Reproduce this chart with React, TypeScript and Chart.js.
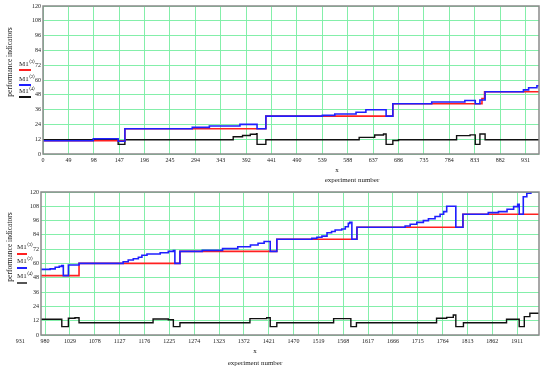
import React, { useEffect, useRef } from 'react';
import { Chart, registerables } from 'chart.js';
Chart.register(...registerables);

// ---------- tick labels ----------
const yTicks = [0, 12, 24, 36, 48, 60, 72, 84, 96, 108, 120];
const topXTicks = [0, 49, 98, 147, 196, 245, 294, 343, 392, 441, 490, 539, 588, 637, 686, 735, 784, 833, 882, 931];
const bottomXTicks = [931, 980, 1029, 1078, 1127, 1176, 1225, 1274, 1323, 1372, 1421, 1470, 1519, 1568, 1617, 1666, 1715, 1764, 1813, 1862, 1911];

// ---------- top chart (experiments 0 .. 957) ----------
const topBlueX = [0, 97, 145, 158, 288, 321, 380, 413, 430, 539, 563, 604, 623, 662, 675, 750, 814, 834, 843, 853, 927, 937, 953, 957];
const topBlueY = [10.8, 12.4, 10.3, 20.5, 21.6, 22.7, 24, 20.5, 30.7, 31.3, 32.4, 33.8, 35.9, 30.7, 40.8, 42.2, 43.4, 40.8, 43.8, 50.5, 52, 53.7, 55.3, 55.3];
const topRedX = [0, 158, 430, 675, 847, 852, 957];
const topRedY = [10.8, 20.5, 30.7, 40.8, 45, 50.5, 50.5];
const topBlackX = [0, 145, 158, 367, 385, 400, 412, 413, 430, 610, 640, 657, 662, 675, 686, 798, 824, 834, 843, 853, 957];
const topBlackY = [11.5, 7.8, 11.5, 14, 15, 16, 16.5, 7.8, 11.5, 13.5, 15.4, 16.2, 7.8, 11, 11.5, 14.9, 15.5, 7.8, 16.2, 11.5, 11.5];

// ---------- bottom chart (experiments 972 .. 1954) ----------
const botBlueX = [972, 990, 1000, 1008, 1013, 1016, 1026, 1047, 1134, 1144, 1154, 1164, 1171, 1181, 1207, 1223, 1233, 1236, 1246, 1290, 1330, 1360, 1385, 1400, 1412, 1424, 1437, 1506, 1516, 1526, 1536, 1545, 1552, 1565, 1572, 1578, 1581, 1585, 1595, 1690, 1700, 1713, 1726, 1736, 1749, 1759, 1766, 1772, 1790, 1804, 1854, 1874, 1891, 1904, 1912, 1915, 1923, 1930, 1938, 1954];
const botBlueY = [55.1, 55.5, 56.8, 57.6, 58.2, 49.8, 58.7, 60.1, 61.5, 62.9, 64, 65.2, 66.9, 68, 69, 70.2, 70.8, 60.1, 70.2, 71, 72.5, 74, 75.5, 77, 78.5, 70.2, 80.3, 81.1, 82, 83, 85.8, 86.9, 88.1, 89, 90.9, 93.7, 94.5, 80.3, 90.4, 91.5, 93, 94.5, 96, 97.6, 99.5, 101.3, 103.5, 108, 90.4, 101.3, 102.7, 103.5, 105.5, 107.7, 109.7, 101.3, 116, 118.9, 120.5, 120.5];
const botRedX = [972, 1047, 1246, 1437, 1595, 1804, 1954];
const botRedY = [49.8, 60.1, 70.2, 80.3, 90.4, 101.3, 101.3];
const botBlackX = [972, 1013, 1026, 1039, 1047, 1193, 1223, 1233, 1246, 1384, 1417, 1424, 1437, 1549, 1583, 1594, 1752, 1772, 1785, 1790, 1805, 1890, 1915, 1925, 1936, 1954];
const botBlackY = [13.2, 7, 14, 14.5, 10.3, 13.4, 12.8, 7, 10.3, 13.7, 14.5, 7, 10.3, 13.7, 7, 10.3, 14, 14.8, 16.8, 7, 10.3, 13.2, 7, 15.4, 18.2, 18.2];

const BLUE = '#1f1fff';
const RED = '#ff2020';
const BLACK = '#111111';
const GRID = 'rgba(125, 238, 165, 0.95)';
const FONT = '"Liberation Serif", "Times New Roman", serif';

type Series = { x: number[]; y: number[]; color: string; width: number };

const framePlugin = {
  id: 'frame',
  afterDatasetsDraw(chart: any) {
    const { ctx, chartArea } = chart;
    ctx.save();
    ctx.strokeStyle = '#8a8a8a';
    ctx.lineWidth = 1.5;
    ctx.strokeRect(chartArea.left, chartArea.top, chartArea.right - chartArea.left, chartArea.bottom - chartArea.top);
    ctx.restore();
  },
};

function StepChart(props: {
  top: number; height: number; areaLeft: number; areaRight: number; areaTop: number; areaBottom: number;
  xMin: number; xMax: number; xTicks: number[]; series: Series[];
}) {
  const ref = useRef<HTMLCanvasElement | null>(null);
  useEffect(() => {
    const { height, areaLeft, areaRight, areaTop, areaBottom, xMin, xMax, xTicks, series } = props;
    const chart = new Chart(ref.current as HTMLCanvasElement, {
      type: 'line',
      data: {
        datasets: series.map((s) => ({
          data: s.x.map((x, i) => ({ x, y: s.y[i] })),
          borderColor: s.color,
          borderWidth: s.width,
          pointRadius: 0,
          stepped: true,
          fill: false,
        })),
      },
      options: {
        animation: false,
        responsive: false,
        events: [],
        layout: { padding: { left: 0, right: 550 - areaRight, top: areaTop, bottom: 0 } },
        plugins: { legend: { display: false }, tooltip: { enabled: false } },
        scales: {
          x: {
            type: 'linear',
            min: xMin,
            max: xMax,
            afterBuildTicks: (ax: any) => { ax.ticks = xTicks.map((v) => ({ value: v })); },
            afterFit: (ax: any) => { ax.height = height - areaBottom; },
            ticks: {
              autoSkip: false, maxRotation: 0, minRotation: 0, padding: 3, color: '#222',
              font: { family: FONT, size: 6 },
              callback: (v: any) => String(v),
            },
            grid: {
              color: (c: any) => (c.tick && c.tick.value < xMin ? 'rgba(0,0,0,0)' : GRID),
              lineWidth: 1,
              drawTicks: false,
            },
            border: { display: false },
          },
          y: {
            type: 'linear',
            min: 0,
            max: 120,
            afterBuildTicks: (ax: any) => { ax.ticks = yTicks.map((v) => ({ value: v })); },
            afterFit: (ax: any) => { ax.width = areaLeft; },
            ticks: { padding: 2, color: '#222', font: { family: FONT, size: 6 }, callback: (v: any) => String(v) },
            grid: { color: GRID, lineWidth: 1, drawTicks: false },
            border: { display: false },
          },
        },
      } as any,
      plugins: [framePlugin],
    });
    return () => chart.destroy();
  }, []);
  return (
    <canvas ref={ref} width={550} height={props.height}
      style={{ position: 'absolute', left: 0, top: props.top, width: 550, height: props.height }} />
  );
}

function Text(p: { x: number; y: number; size: number; children: any; rotate?: boolean }) {
  return (
    <div style={{
      position: 'absolute', left: p.x, top: p.y, whiteSpace: 'nowrap', fontFamily: FONT, fontSize: p.size,
      color: '#222', lineHeight: 1,
      transform: p.rotate ? 'translate(-50%, -50%) rotate(-90deg)' : 'translate(-50%, -50%)',
    }}>{p.children}</div>
  );
}

function LegendItem(p: { x: number; textY: number; lineY: number; sup: string; color: string; w: number }) {
  return (
    <>
      <div style={{ position: 'absolute', left: p.x, top: p.textY - 4, fontFamily: FONT, fontSize: 7, lineHeight: 1, color: '#222', whiteSpace: 'nowrap' }}>
        M1<sup style={{ fontSize: 5, verticalAlign: 'top', position: 'relative', top: -2 }}>{p.sup}</sup>
      </div>
      <div style={{ position: 'absolute', left: p.x, top: p.lineY - 1, width: p.w, height: 2, background: p.color }} />
    </>
  );
}

export default function App() {
  const topSeries: Series[] = [
    { x: topBlueX, y: topBlueY, color: BLUE, width: 1.6 },
    { x: topRedX, y: topRedY, color: RED, width: 1.6 },
    { x: topBlackX, y: topBlackY, color: BLACK, width: 1.4 },
  ];
  const botSeries: Series[] = [
    { x: botBlueX, y: botBlueY, color: BLUE, width: 1.6 },
    { x: botRedX, y: botRedY, color: RED, width: 1.6 },
    { x: botBlackX, y: botBlackY, color: BLACK, width: 1.4 },
  ];
  return (
    <div style={{ position: 'absolute', left: 0, top: 0, width: 550, height: 372, background: '#fff', overflow: 'hidden' }}>
      <StepChart top={0} height={186} areaLeft={43} areaRight={539} areaTop={6} areaBottom={154}
        xMin={0} xMax={957} xTicks={topXTicks} series={topSeries} />
      <StepChart top={186} height={186} areaLeft={41} areaRight={539} areaTop={6} areaBottom={149}
        xMin={972} xMax={1954} xTicks={bottomXTicks} series={botSeries} />

      <Text x={10} y={62} size={7.5} rotate>performance indicators</Text>
      <Text x={10} y={247} size={7.5} rotate>performance indicators</Text>

      <Text x={337} y={170} size={7}>x</Text>
      <Text x={352} y={180} size={7}>experiment number</Text>
      <Text x={255} y={351} size={7}>x</Text>
      <Text x={255} y={363} size={7}>experiment number</Text>

      <LegendItem x={19} textY={65} lineY={70} sup="⟨3⟩" color={RED} w={12} />
      <LegendItem x={19} textY={80} lineY={85} sup="⟨2⟩" color={BLUE} w={12} />
      <LegendItem x={19} textY={92} lineY={97} sup="⟨4⟩" color={BLACK} w={12} />

      <LegendItem x={17} textY={248} lineY={254} sup="⟨3⟩" color={RED} w={10} />
      <LegendItem x={17} textY={262} lineY={268} sup="⟨2⟩" color={BLUE} w={10} />
      <LegendItem x={17} textY={277} lineY={283} sup="⟨4⟩" color="#555" w={10} />
    </div>
  );
}
